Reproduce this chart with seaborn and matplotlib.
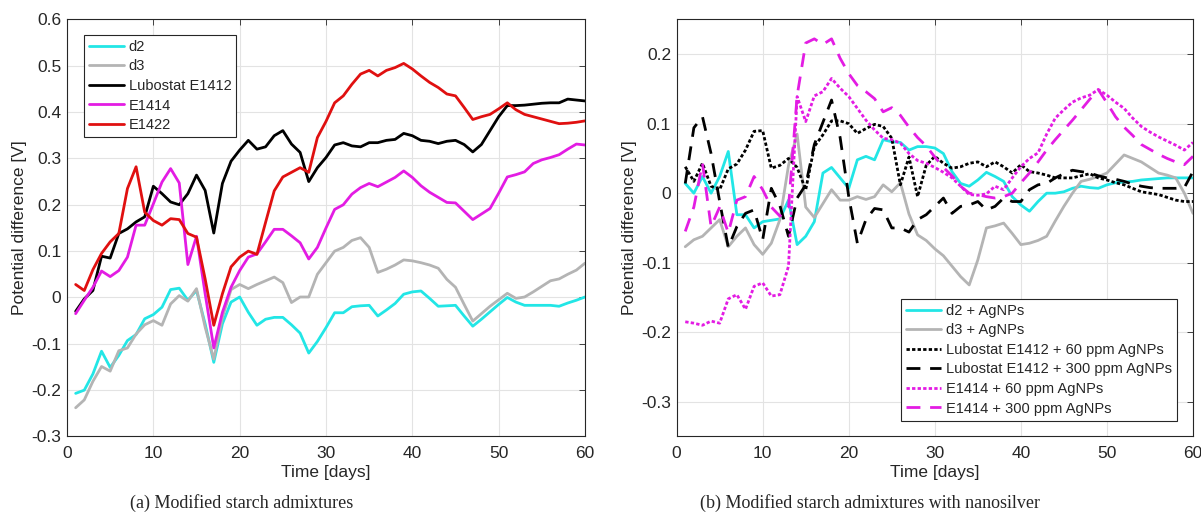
import numpy as np
import pandas as pd
import matplotlib
matplotlib.use("Agg")
import matplotlib.pyplot as plt
import seaborn as sns

days = np.arange(1, 61)

# (a) modified starch admixtures
d2 = [-0.207, -0.2, -0.165, -0.116, -0.151, -0.125, -0.093, -0.08, -0.046, -0.037,
      -0.021, 0.017, 0.02, -0.006, 0.015, -0.057, -0.14, -0.057, -0.01, 0.001,
      -0.032, -0.06, -0.047, -0.043, -0.043, -0.059, -0.077, -0.12, -0.095, -0.065,
      -0.033, -0.033, -0.02, -0.018, -0.017, -0.04, -0.027, -0.013, 0.007, 0.012,
      0.014, -0.002, -0.019, -0.018, -0.017, -0.04, -0.062, -0.047, -0.031, -0.015,
      0.0, -0.01, -0.017, -0.017, -0.017, -0.017, -0.019, -0.012, -0.006, 0.001]
d3 = [-0.238, -0.221, -0.181, -0.149, -0.159, -0.115, -0.109, -0.079, -0.059, -0.05,
      -0.06, -0.014, 0.004, -0.008, 0.019, -0.064, -0.133, -0.043, 0.017, 0.028,
      0.019, 0.028, 0.036, 0.044, 0.032, -0.011, 0.001, 0.001, 0.05, 0.075,
      0.1, 0.108, 0.123, 0.129, 0.108, 0.054, 0.061, 0.07, 0.081, 0.079,
      0.075, 0.07, 0.063, 0.039, 0.022, -0.015, -0.051, -0.035, -0.019, -0.005,
      0.009, -0.002, 0.001, 0.012, 0.024, 0.036, 0.04, 0.05, 0.059, 0.074]
e1412 = [-0.03, -0.003, 0.015, 0.089, 0.085, 0.138, 0.148, 0.163, 0.174, 0.24,
         0.224, 0.206, 0.2, 0.224, 0.264, 0.231, 0.139, 0.246, 0.294, 0.318,
         0.339, 0.32, 0.325, 0.349, 0.36, 0.331, 0.313, 0.25, 0.28, 0.302,
         0.329, 0.334, 0.327, 0.325, 0.334, 0.334, 0.339, 0.341, 0.354, 0.349,
         0.339, 0.337, 0.332, 0.337, 0.339, 0.33, 0.314, 0.33, 0.36, 0.39,
         0.414, 0.414, 0.415, 0.417, 0.419, 0.42, 0.42, 0.428, 0.426, 0.424]
e1414 = [-0.035, -0.006, 0.022, 0.057, 0.045, 0.058, 0.087, 0.156, 0.156, 0.202,
         0.249, 0.278, 0.247, 0.071, 0.132, 0.008, -0.109, -0.032, 0.022, 0.058,
         0.087, 0.094, 0.12, 0.147, 0.147, 0.133, 0.118, 0.083, 0.108, 0.15,
         0.19, 0.2, 0.223, 0.237, 0.246, 0.239, 0.249, 0.259, 0.273, 0.259,
         0.241, 0.227, 0.216, 0.205, 0.204, 0.186, 0.168, 0.18, 0.192, 0.225,
         0.26, 0.265, 0.271, 0.289, 0.297, 0.302, 0.308, 0.32, 0.331, 0.329]
e1422 = [0.028, 0.015, 0.06, 0.095, 0.12, 0.138, 0.235, 0.282, 0.184, 0.166,
         0.156, 0.17, 0.168, 0.138, 0.13, 0.04, -0.06, 0.008, 0.066, 0.087,
         0.1, 0.093, 0.162, 0.23, 0.26, 0.27, 0.28, 0.27, 0.345, 0.38,
         0.42, 0.435, 0.46, 0.482, 0.49, 0.478, 0.49, 0.496, 0.505, 0.493,
         0.478, 0.464, 0.453, 0.439, 0.435, 0.41, 0.384, 0.39, 0.395, 0.407,
         0.42, 0.405, 0.395, 0.39, 0.385, 0.38, 0.375, 0.376, 0.378, 0.381]

# (b) with nanosilver
d2_ag = [0.014, 0.0, 0.024, 0.0, 0.024, 0.06, -0.031, -0.031, -0.05, -0.041,
         -0.039, -0.037, -0.01, -0.074, -0.062, -0.041, 0.029, 0.037, 0.022, 0.007,
         0.048, 0.053, 0.048, 0.077, 0.074, 0.073, 0.062, 0.067, 0.067, 0.065,
         0.057, 0.031, 0.014, 0.01, 0.019, 0.03, 0.024, 0.017, -0.005, -0.017,
         -0.026, -0.012, 0.0, 0.0, 0.002, 0.007, 0.01, 0.008, 0.007, 0.012,
         0.015, 0.016, 0.017, 0.019, 0.02, 0.021, 0.022, 0.022, 0.022, 0.022]
d3_ag = [-0.077, -0.067, -0.062, -0.05, -0.038, -0.077, -0.062, -0.05, -0.074, -0.088,
         -0.072, -0.038, 0.04, 0.085, -0.02, -0.035, -0.015, 0.005, -0.01, -0.01,
         -0.005, -0.009, -0.005, 0.012, 0.002, 0.015, -0.03, -0.06, -0.068, -0.08,
         -0.09, -0.105, -0.12, -0.132, -0.096, -0.05, -0.047, -0.043, -0.058, -0.074,
         -0.072, -0.068, -0.062, -0.04, -0.019, 0.0, 0.017, 0.02, 0.024, 0.029,
         0.042, 0.055, 0.05, 0.045, 0.037, 0.029, 0.026, 0.022, 0.0, -0.029]
e1412_60 = [0.038, 0.017, 0.043, 0.01, 0.005, 0.035, 0.042, 0.062, 0.089, 0.09,
            0.036, 0.04, 0.05, 0.037, 0.005, 0.067, 0.084, 0.104, 0.104, 0.1,
            0.086, 0.093, 0.099, 0.096, 0.079, 0.012, 0.052, -0.005, 0.04, 0.053,
            0.043, 0.036, 0.038, 0.043, 0.045, 0.038, 0.045, 0.038, 0.029, 0.041,
            0.031, 0.029, 0.026, 0.022, 0.022, 0.022, 0.025, 0.028, 0.022, 0.019,
            0.015, 0.012, 0.007, 0.002, 0.0, -0.002, -0.006, -0.01, -0.012, -0.012]
e1412_300 = [0.014, 0.094, 0.11, 0.057, -0.012, -0.078, -0.048, -0.029, -0.024, -0.067,
             0.007, -0.018, -0.062, -0.007, 0.012, 0.07, 0.102, 0.134, 0.08, -0.005,
             -0.072, -0.038, -0.022, -0.024, -0.05, -0.05, -0.056, -0.038, -0.031, -0.019,
             -0.007, -0.029, -0.019, -0.017, -0.012, -0.024, -0.019, -0.007, -0.012, -0.012,
             0.005, 0.012, 0.014, 0.022, 0.028, 0.033, 0.031, 0.029, 0.025, 0.022,
             0.02, 0.017, 0.013, 0.01, 0.008, 0.007, 0.007, 0.007, 0.008, 0.031]
e1414_60 = [-0.185, -0.187, -0.19, -0.184, -0.187, -0.152, -0.146, -0.167, -0.134, -0.129,
            -0.148, -0.146, -0.105, 0.139, 0.103, 0.14, 0.146, 0.165, 0.151, 0.139,
            0.122, 0.105, 0.091, 0.079, 0.077, 0.072, 0.057, 0.047, 0.043, 0.037,
            0.03, 0.022, 0.01, -0.002, -0.003, -0.001, 0.01, 0.005, 0.022, 0.038,
            0.05, 0.058, 0.085, 0.108, 0.12, 0.131, 0.137, 0.141, 0.149, 0.141,
            0.131, 0.122, 0.108, 0.096, 0.088, 0.081, 0.075, 0.069, 0.062, 0.073]
e1414_300 = [-0.055, -0.02, 0.043, -0.048, -0.02, -0.057, -0.01, -0.005, 0.024, 0.005,
             -0.02, -0.033, -0.02, 0.14, 0.216, 0.222, 0.214, 0.222, 0.194, 0.172,
             0.155, 0.146, 0.136, 0.117, 0.123, 0.112, 0.095, 0.08, 0.068, 0.052,
             0.037, 0.025, 0.01, 0.0, -0.002, -0.005, -0.007, -0.005, 0.0, 0.015,
             0.029, 0.045, 0.062, 0.077, 0.091, 0.105, 0.12, 0.135, 0.149, 0.13,
             0.11, 0.095, 0.083, 0.07, 0.063, 0.056, 0.05, 0.045, 0.041, 0.053]

cyan, grey, black, magenta, red = "#22e6e6", "#b4b4b4", "#000000", "#e31ce3", "#e01010"

series_a = [("d2", d2, cyan, "-"), ("d3", d3, grey, "-"),
            ("Lubostat E1412", e1412, black, "-"), ("E1414", e1414, magenta, "-"),
            ("E1422", e1422, red, "-")]
series_b = [("d2 + AgNPs", d2_ag, cyan, "-"), ("d3 + AgNPs", d3_ag, grey, "-"),
            ("Lubostat E1412 + 60 ppm AgNPs", e1412_60, black, (0, (1.2, 0.8))),
            ("Lubostat E1412 + 300 ppm AgNPs", e1412_300, black, (0, (5, 3.5))),
            ("E1414 + 60 ppm AgNPs", e1414_60, magenta, (0, (1.2, 0.8))),
            ("E1414 + 300 ppm AgNPs", e1414_300, magenta, (0, (5, 3.5)))]

sns.set_theme(style="whitegrid")
plt.rcParams["font.family"] = ["Liberation Sans", "DejaVu Sans"]
plt.rcParams["axes.unicode_minus"] = False

fig = plt.figure(figsize=(12.01, 5.24), dpi=100)
ax1 = fig.add_axes([0.0558, 0.167, 0.4313, 0.796])
ax2 = fig.add_axes([0.5634, 0.167, 0.4299, 0.796])

for ax, series in [(ax1, series_a), (ax2, series_b)]:
    for name, vals, col, ls in series:
        df = pd.DataFrame({"day": days, "v": vals})
        sns.lineplot(data=df, x="day", y="v", ax=ax, color=col, linestyle=ls,
                     linewidth=2.0, label=name)
    ax.set_xlim(0, 60)
    ax.set_xticks(range(0, 61, 10))
    ax.set_xlabel("Time [days]", fontsize=12.5, color="#262626", labelpad=3)
    ax.set_ylabel("Potential difference [V]", fontsize=12.5, color="#262626", labelpad=3)
    ax.grid(True, color="#e3e3e3", linewidth=0.8)
    ax.tick_params(direction="in", top=True, right=True, labelsize=12.5,
                   colors="#262626", length=4, width=0.6)
    ax.tick_params(axis="x", pad=7)
    ax.tick_params(axis="y", pad=4)
    for s in ax.spines.values():
        s.set_color("#262626")
        s.set_linewidth(0.8)
    ax.set_facecolor("white")

fmt = lambda v, p: f"{v:.1f}" if abs(v) > 1e-9 else "0"
ax1.set_ylim(-0.3, 0.6)
ax1.set_yticks(np.round(np.arange(-0.3, 0.61, 0.1), 1))
ax1.yaxis.set_major_formatter(plt.FuncFormatter(fmt))
ax2.set_ylim(-0.35, 0.25)
ax2.set_yticks(np.round(np.arange(-0.3, 0.21, 0.1), 1))
ax2.yaxis.set_major_formatter(plt.FuncFormatter(fmt))

leg_kw = dict(fontsize=10.5, frameon=True, fancybox=False, edgecolor="#262626",
              framealpha=1, borderpad=0.35, labelspacing=0.38, handlelength=2.4,
              handletextpad=0.3, borderaxespad=0)
l1 = ax1.legend(loc="upper left", bbox_to_anchor=(0.033, 0.963), **leg_kw)
l2 = ax2.legend(loc="lower right", bbox_to_anchor=(0.969, 0.038), **leg_kw)
for l in (l1, l2):
    l.get_frame().set_linewidth(0.8)

fig.text(0.2015, 0.03, "(a) Modified starch admixtures", fontsize=13,
         family=["Liberation Serif", "DejaVu Serif"], ha="center")
fig.text(0.724, 0.03, "(b) Modified starch admixtures with nanosilver", fontsize=13,
         family=["Liberation Serif", "DejaVu Serif"], ha="center")

fig.savefig("out.png", dpi=100, facecolor="white")
